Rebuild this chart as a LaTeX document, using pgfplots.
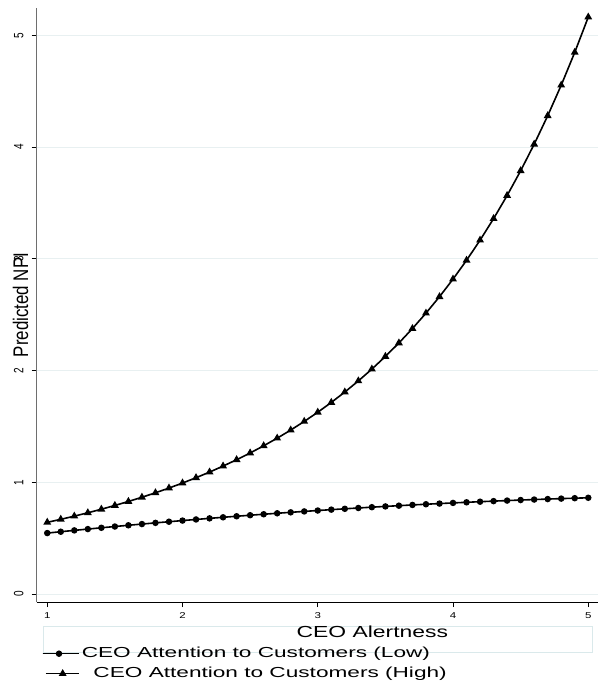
\documentclass[border=0pt]{standalone}
\usepackage{fontspec}
\setmainfont{Liberation Sans}
\usepackage{pgfplots}
\usepackage{pgfplotstable}
\pgfplotsset{compat=1.18}

\definecolor{gridc}{RGB}{232,240,241}
\definecolor{boxc}{RGB}{218,233,235}
\definecolor{yaxc}{RGB}{110,110,110}

% legend symbols: a short line with one marker on it
\pgfplotsset{
  lowleg/.style={legend image code/.code={
    \draw[##1, mark=none] (0pt,0pt) -- (36.6pt,0pt);
    \draw[##1, mark repeat=2, mark phase=2] plot coordinates {(0pt,0pt) (16.3pt,0pt) (36.6pt,0pt)};}},
  highleg/.style={legend image code/.code={
    \draw[##1, mark=none] (3.3pt,0pt) -- (36.6pt,0pt);
    \draw[##1, mark repeat=2, mark phase=2] plot coordinates {(3.3pt,0pt) (20pt,0pt) (36.6pt,0pt)};}},
}

% Predicted NPI by CEO alertness, low vs. high attention to customers
\pgfplotstableread{
x    low     high
1.0  0.5450  0.6411
1.1  0.5572  0.6681
1.2  0.5692  0.6966
1.3  0.5809  0.7267
1.4  0.5924  0.7586
1.5  0.6038  0.7923
1.6  0.6148  0.8280
1.7  0.6257  0.8658
1.8  0.6364  0.9057
1.9  0.6468  0.9481
2.0  0.6570  0.9930
2.1  0.6670  1.0406
2.2  0.6768  1.0912
2.3  0.6863  1.1449
2.4  0.6956  1.2017
2.5  0.7048  1.2621
2.6  0.7136  1.3264
2.7  0.7223  1.3946
2.8  0.7308  1.4673
2.9  0.7390  1.5445
3.0  0.7470  1.6268
3.1  0.7548  1.7144
3.2  0.7624  1.8077
3.3  0.7697  1.9071
3.4  0.7768  2.0131
3.5  0.7838  2.1263
3.6  0.7904  2.2470
3.7  0.7969  2.3760
3.8  0.8032  2.5137
3.9  0.8092  2.6611
4.0  0.8150  2.8185
4.1  0.8206  2.9869
4.2  0.8260  3.1672
4.3  0.8311  3.3602
4.4  0.8360  3.5670
4.5  0.8408  3.7886
4.6  0.8452  4.0262
4.7  0.8495  4.2812
4.8  0.8536  4.5548
4.9  0.8574  4.8487
5.0  0.8610  5.1644
}\npidata

\begin{document}
\begin{tikzpicture}
\path[use as bounding box] (0,0) rectangle (604pt,688pt);
\begin{axis}[
  at={(36.7pt,86pt)}, anchor=south west,
  scale only axis, width=561.3pt, height=594pt,
  xmin=0.922, xmax=5.072, ymin=-0.072, ymax=5.246,
  axis lines=left,
  axis line style={-},
  x axis line style={black, line width=0.9pt},
  y axis line style={yaxc, line width=0.9pt},
  xtick={1,2,3,4,5}, ytick={0,1,2,3,4,5},
  tick align=outside,
  major tick length=5pt,
  tick style={black, line width=0.8pt},
  ymajorgrids, major grid style={gridc, line width=0.8pt},
  /pgf/number format/assume math mode=true,
  xticklabel={\scalebox{1.35}[1]{\pgfmathprintnumber{\tick}}},
  yticklabel={\scalebox{1}[1.35]{\pgfmathprintnumber{\tick}}},
  xticklabel style={font=\fontsize{8.5}{10}\selectfont, anchor=center, inner sep=0pt, yshift=-9pt},
  yticklabel style={font=\fontsize{10}{12}\selectfont, rotate=90, anchor=south, inner sep=0pt, yshift=8pt},
  xlabel={\scalebox{1.43}[1]{CEO Alertness}},
  ylabel={\scalebox{1}[1.25]{Predicted NPI}},
  xlabel style={font=\fontsize{16}{19}\selectfont, at={(axis description cs:0.598,-0.0505)}, anchor=center, inner sep=0pt},
  ylabel style={font=\fontsize{16.9}{20}\selectfont, at={(axis description cs:-0.0289,0.5)}, anchor=center, inner sep=0pt},
  legend style={font=\fontsize{14.5}{17}\selectfont, draw=none, fill=none,
    at={(axis description cs:0.0089,-0.0749)}, anchor=north west,
    inner sep=0pt, row sep=6pt, column sep=1.7pt,
    nodes={inner sep=0pt, text height=10.5pt, text depth=3.5pt}},
  legend cell align=left,
  clip=false,
]
\addplot[black, line width=1.6pt, mark=*, mark size=2.4pt, lowleg]
  table[x=x, y=low] {\npidata};
\addlegendentry{\scalebox{1.56}[1]{CEO Attention to Customers (Low)}}
\addplot[black, line width=1.6pt, mark=triangle*, mark size=3pt, highleg]
  table[x=x, y=high] {\npidata};
\addlegendentry{\hspace{11.7pt}\scalebox{1.56}[1]{CEO Attention to Customers (High)}}
\draw[boxc, line width=0.8pt] (axis description cs:0.0112,-0.0854) rectangle (axis description cs:0.9906,-0.0404);
\end{axis}
\end{tikzpicture}
\end{document}
